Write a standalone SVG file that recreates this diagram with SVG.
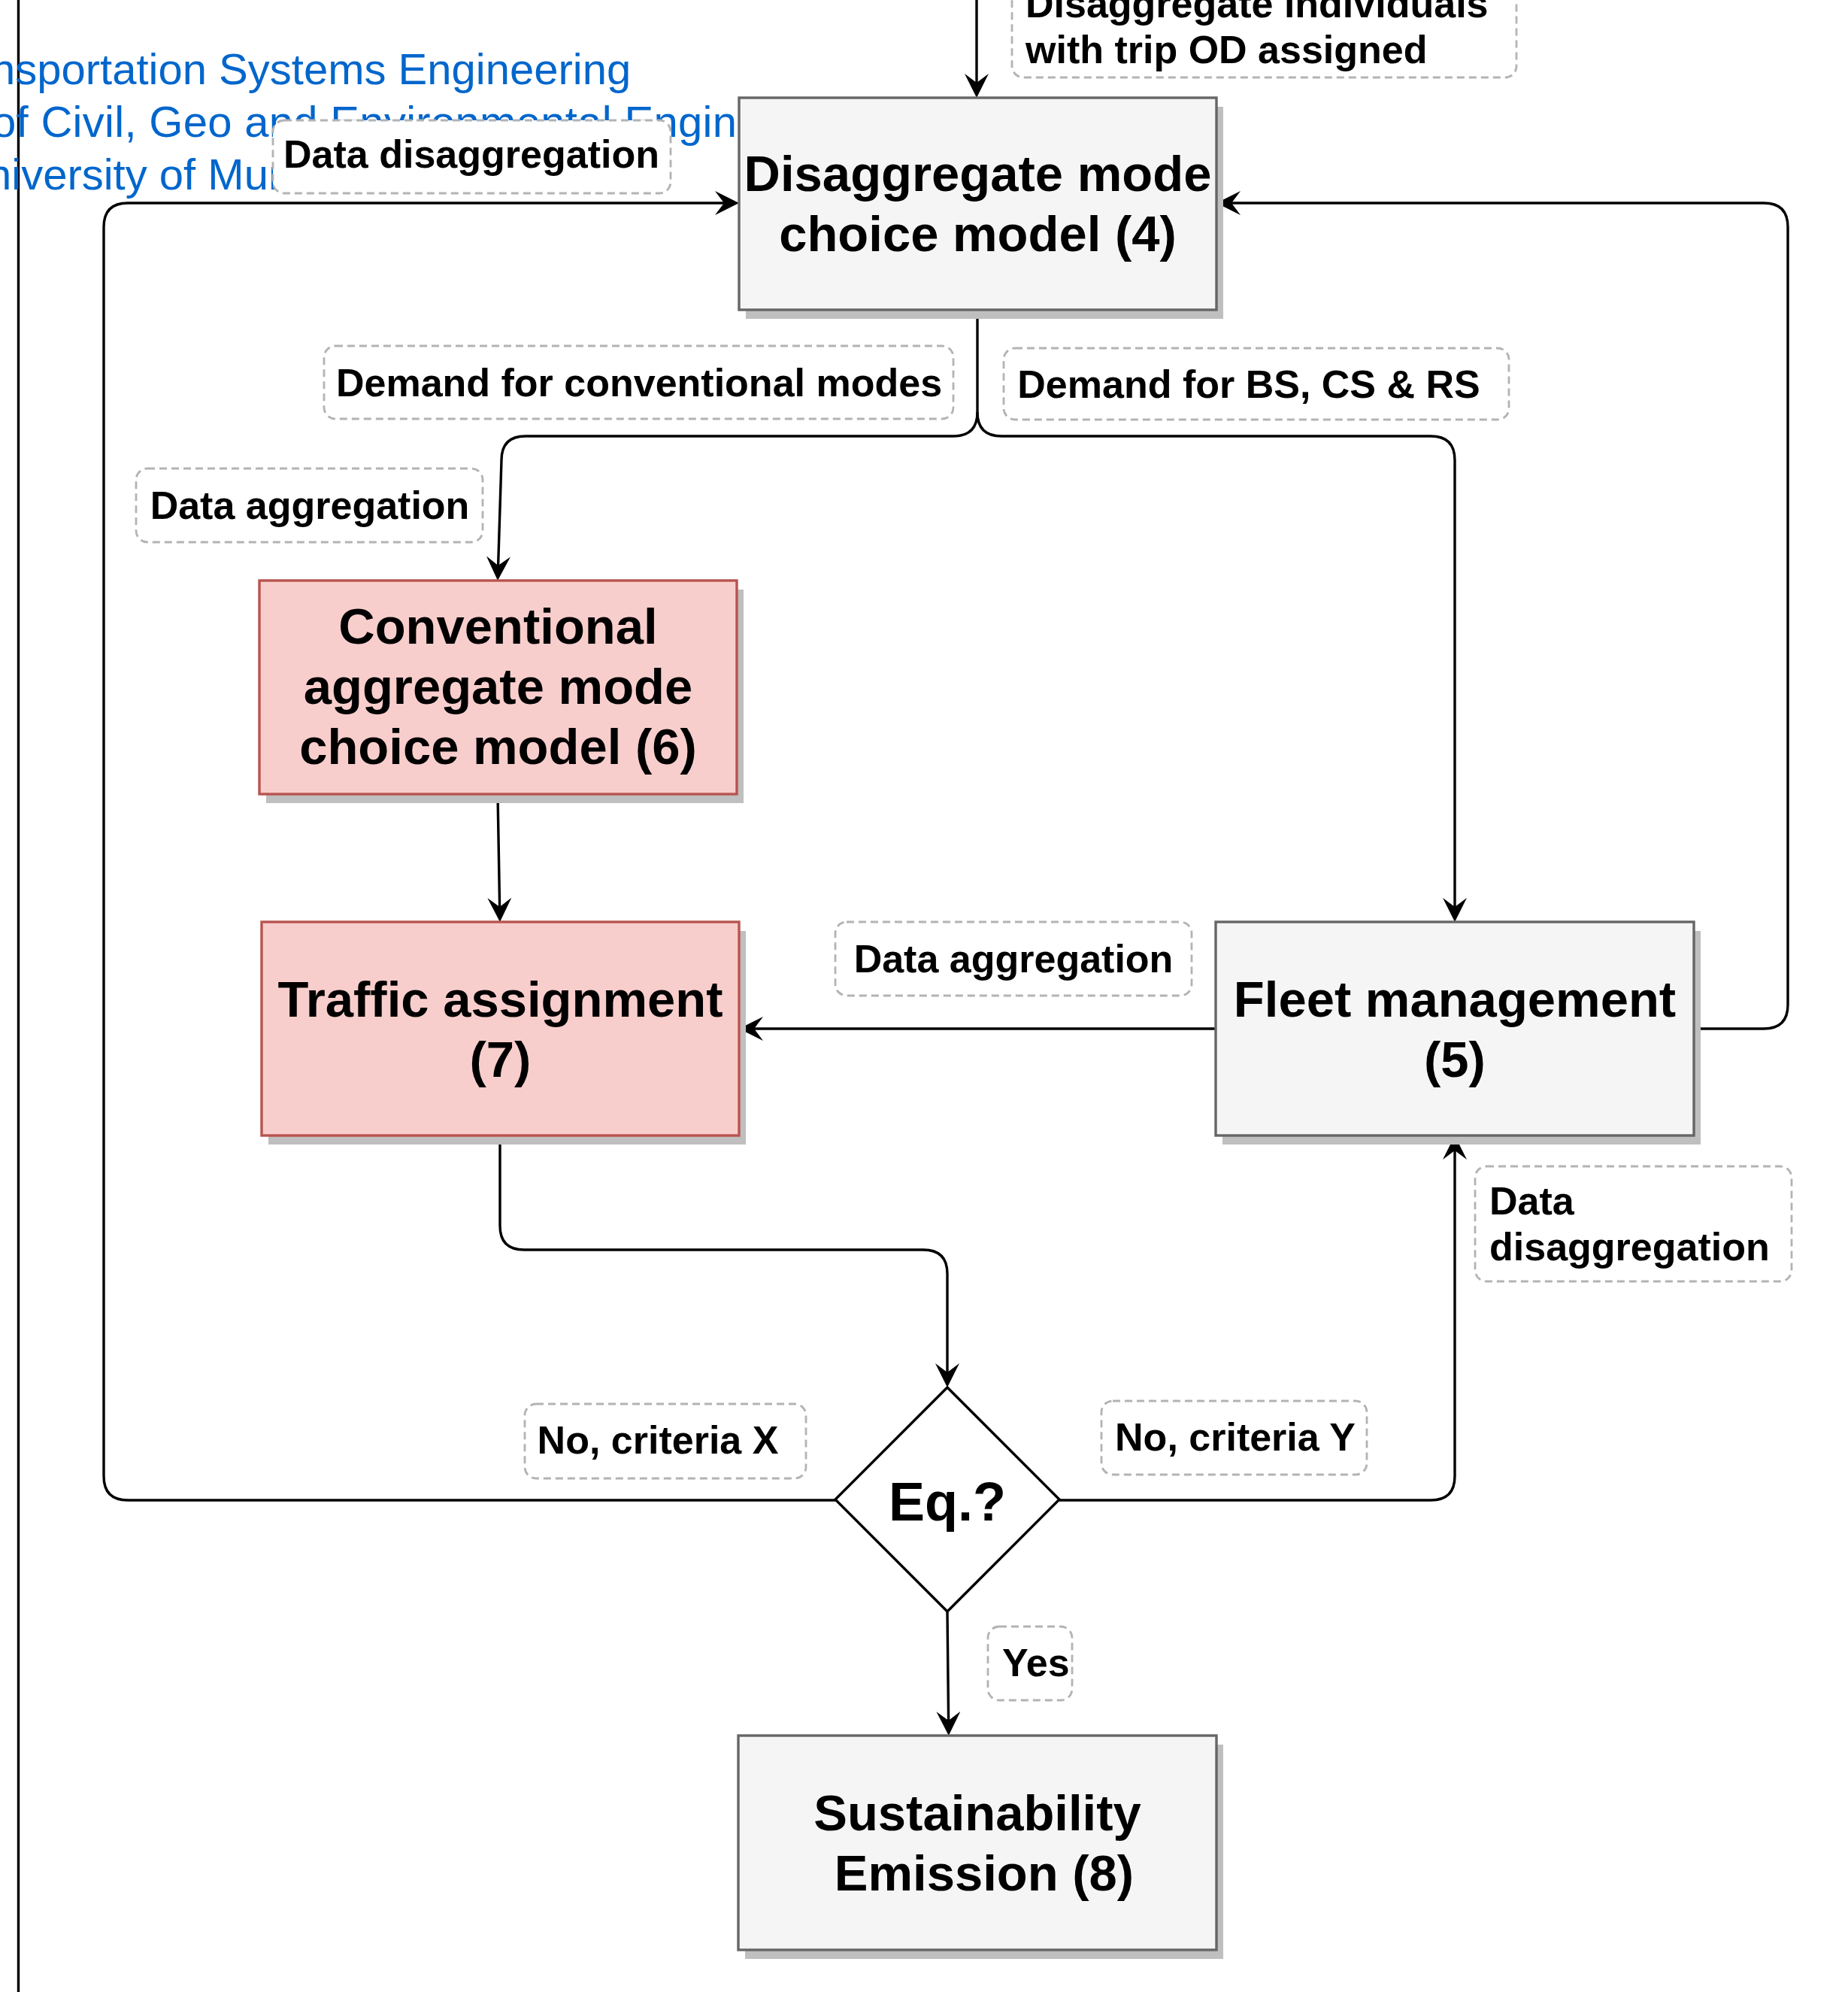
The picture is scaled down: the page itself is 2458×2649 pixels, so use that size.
<svg xmlns="http://www.w3.org/2000/svg" width="2458" height="2649" viewBox="0 0 2458 2649">
  <defs>
    <style>
      .node-grey { fill: #f5f5f5; stroke: #666666; stroke-width: 3.4; }
      .node-red { fill: #f8cecc; stroke: #b85450; stroke-width: 3.4; }
      .shadow { fill: #bfbfbf; stroke: none; }
      .decision { fill: #ffffff; stroke: #000000; stroke-width: 3.4; }
      .node-text { font-family: "Liberation Sans", Arial, Helvetica, sans-serif; font-weight: bold; font-size: 67px; fill: #000000; text-anchor: middle; }
      .label-box { fill: #ffffff; stroke: #b3b3b3; stroke-width: 2.8; stroke-dasharray: 10 6; }
      .label-text { font-family: "Liberation Sans", Arial, Helvetica, sans-serif; font-weight: bold; font-size: 52px; fill: #000000; }
      .header { font-family: "Liberation Sans", Arial, Helvetica, sans-serif; font-size: 58px; fill: #0066cc; }
      .edge { fill: none; stroke: #000000; stroke-width: 3.4; marker-end: url(#arrow); }
      .edge-plain { fill: none; stroke: #000000; stroke-width: 3.4; }
    </style>
    <marker id="arrow" markerUnits="userSpaceOnUse" viewBox="0 0 32 32" markerWidth="32" markerHeight="32" refX="12" refY="16" orient="auto">
      <path d="M0,0 L32,16 L0,32 L12,16 Z" fill="#000000"/>
    </marker>
  </defs>

  <rect x="0" y="0" width="2458" height="2649" fill="#ffffff"/>

  <!-- page border line on the left -->
  <line x1="24.5" y1="0" x2="24.5" y2="2649" stroke="#000000" stroke-width="3.4"/>

  <!-- institutional header -->
  <g id="header">
    <text class="header" x="-12" y="112">nsportation Systems Engineering</text>
    <text class="header" x="-11" y="182" textLength="991" lengthAdjust="spacing">of Civil, Geo and Environmental Engin</text>
    <text class="header" x="-17" y="252">niversity of Mun</text>
  </g>

  <!-- connectors -->
  <g id="connectors">
    <path class="edge" d="M1299,0 L1299,110"/>
    <path class="edge-plain" d="M1300,412 L1300,548"/>
    <path class="edge" d="M1300,548 Q1300,580 1268,580 L699,580 Q667,580 667,612 L662.6,752"/>
    <path class="edge" d="M1300,548 Q1300,580 1332,580 L1903,580 Q1935,580 1935,612 L1935,1206"/>
    <path class="edge" d="M662,1056 L664.6,1206"/>
    <path class="edge" d="M1617,1368 L1003,1368"/>
    <path class="edge" d="M2253,1368 L2346,1368 Q2378,1368 2378,1336 L2378,302 Q2378,270 2346,270 L1638,270"/>
    <path class="edge" d="M665,1510 L665,1630 Q665,1662 697,1662 L1228,1662 Q1260,1662 1260,1694 L1260,1825"/>
    <path class="edge" d="M1111,1995 L170,1995 Q138,1995 138,1963 L138,302 Q138,270 170,270 L963,270"/>
    <path class="edge" d="M1409,1995 L1903,1995 Q1935,1995 1935,1963 L1935,1530"/>
    <path class="edge" d="M1260,2143 L1261.6,2288"/>
  </g>

  <!-- connector labels -->
  <g id="label-individuals">
    <rect class="label-box" x="1346" y="-49" width="671" height="152" rx="15"/>
    <text class="label-text" x="1364" y="23">Disaggregate individuals</text>
    <text class="label-text" x="1364" y="84">with trip OD assigned</text>
  </g>
  <g id="label-disaggregation-top">
    <rect class="label-box" x="363" y="160" width="529" height="97" rx="15"/>
    <text class="label-text" x="627" y="223" text-anchor="middle">Data disaggregation</text>
  </g>
  <g id="label-conventional">
    <rect class="label-box" x="431" y="460" width="837" height="97" rx="15"/>
    <text class="label-text" x="850" y="527" text-anchor="middle">Demand for conventional modes</text>
  </g>
  <g id="label-shared">
    <rect class="label-box" x="1335" y="463" width="672" height="95" rx="15"/>
    <text class="label-text" x="1661" y="529" text-anchor="middle">Demand for BS, CS &amp; RS</text>
  </g>
  <g id="label-aggregation-left">
    <rect class="label-box" x="181" y="623" width="461" height="98" rx="15"/>
    <text class="label-text" x="412" y="690" text-anchor="middle">Data aggregation</text>
  </g>
  <g id="label-aggregation-mid">
    <rect class="label-box" x="1111" y="1226" width="474" height="98" rx="15"/>
    <text class="label-text" x="1348" y="1293" text-anchor="middle">Data aggregation</text>
  </g>
  <g id="label-disaggregation-right">
    <rect class="label-box" x="1962" y="1551" width="421" height="153" rx="15"/>
    <text class="label-text" x="1981" y="1615">Data</text>
    <text class="label-text" x="1981" y="1676">disaggregation</text>
  </g>
  <g id="label-criteria-x">
    <rect class="label-box" x="698" y="1867" width="374" height="99" rx="15"/>
    <text class="label-text" x="875" y="1933" text-anchor="middle">No, criteria X</text>
  </g>
  <g id="label-criteria-y">
    <rect class="label-box" x="1465" y="1863" width="353" height="98" rx="15"/>
    <text class="label-text" x="1643" y="1929" text-anchor="middle">No, criteria Y</text>
  </g>
  <g id="label-yes">
    <rect class="label-box" x="1314" y="2163" width="112" height="98" rx="15"/>
    <text class="label-text" x="1333" y="2229">Yes</text>
  </g>

  <!-- process nodes -->
  <g id="node-disaggregate-mode-choice">
    <rect class="shadow" x="992" y="142" width="635" height="282"/>
    <rect class="node-grey" x="983" y="130" width="635" height="282"/>
    <text class="node-text" x="1300.5" y="254">Disaggregate mode</text>
    <text class="node-text" x="1300.5" y="334">choice model (4)</text>
  </g>
  <g id="node-conventional-aggregate">
    <rect class="shadow" x="354" y="784" width="635" height="284"/>
    <rect class="node-red" x="345" y="772" width="635" height="284"/>
    <text class="node-text" x="662.5" y="856">Conventional</text>
    <text class="node-text" x="662.5" y="936">aggregate mode</text>
    <text class="node-text" x="662.5" y="1016">choice model (6)</text>
  </g>
  <g id="node-traffic-assignment">
    <rect class="shadow" x="357" y="1238" width="635" height="284"/>
    <rect class="node-red" x="348" y="1226" width="635" height="284"/>
    <text class="node-text" x="665.5" y="1352">Traffic assignment</text>
    <text class="node-text" x="665.5" y="1432">(7)</text>
  </g>
  <g id="node-fleet-management">
    <rect class="shadow" x="1626" y="1238" width="636" height="284"/>
    <rect class="node-grey" x="1617" y="1226" width="636" height="284"/>
    <text class="node-text" x="1935" y="1352">Fleet management</text>
    <text class="node-text" x="1935" y="1432">(5)</text>
  </g>
  <g id="node-equilibrium">
    <polygon class="decision" points="1260,1845 1409,1994 1260,2143 1111,1994"/>
    <text class="node-text" x="1260" y="2022" style="font-size:72px">Eq.?</text>
  </g>
  <g id="node-sustainability">
    <rect class="shadow" x="991" y="2320" width="636" height="285"/>
    <rect class="node-grey" x="982" y="2308" width="636" height="285"/>
    <text class="node-text" x="1300" y="2434">Sustainability</text>
    <text class="node-text" x="1309" y="2514">Emission (8)</text>
  </g>
</svg>
